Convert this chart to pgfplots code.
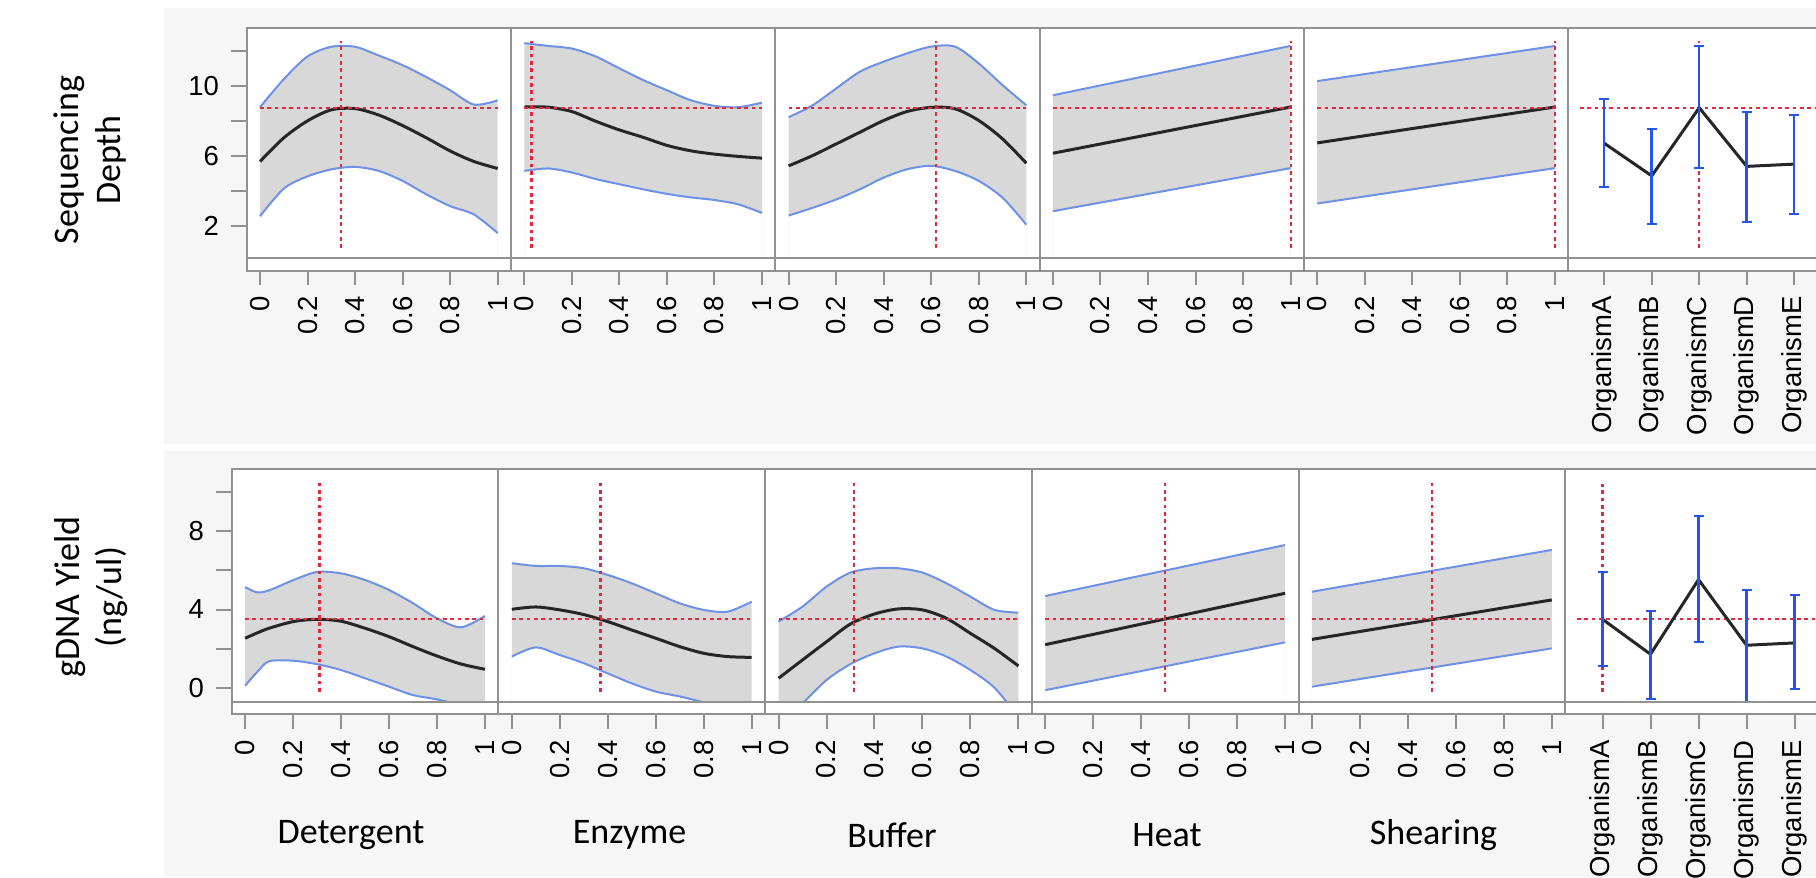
\documentclass[border=0pt]{standalone}
\usepackage{fontspec}
\setmainfont{Carlito}
\newfontfamily\arial{Liberation Sans}
\usepackage{pgfplots}
\usepackage{pgfplotstable}
\pgfplotsset{compat=1.18}

\definecolor{axgray}{RGB}{145,145,145}
\definecolor{bandfill}{RGB}{216,216,216}
\definecolor{bandblue}{RGB}{110,145,230}
\definecolor{errblue}{RGB}{35,85,235}
\definecolor{refred}{RGB}{228,40,60}
\definecolor{panelbg}{RGB}{246,246,246}

\newcommand{\tickfont}{\arial\fontsize{8.25}{9.9}\selectfont}
\newcommand{\labfont}{\fontsize{10.8}{12.6}\selectfont}

% sequencing depth (top row)
\pgfplotstableread{
x   m     u     l
0   5.70  8.80  2.57
0.1 7.05  10.40 4.15
0.2 8.02  11.70 4.85
0.3 8.65  12.25 5.25
0.4 8.72  12.25 5.39
0.5 8.35  11.75 5.16
0.6 7.75  11.20 4.59
0.7 7.05  10.52 3.82
0.8 6.30  9.77  3.15
0.9 5.70  8.95  2.67
1.0 5.30  9.19  1.61
}\tDetA
\pgfplotstableread{
x   m     u     l
0   8.81  12.46 5.16
0.1 8.80  12.30 5.30
0.2 8.55  12.15 5.07
0.3 8.00  11.70 4.70
0.4 7.50  11.02 4.40
0.5 7.08  10.35 4.11
0.6 6.62  9.77  3.85
0.7 6.31  9.20  3.65
0.8 6.12  8.88  3.50
0.9 5.99  8.80  3.25
1.0 5.89  9.06  2.76
}\tEnzA
\pgfplotstableread{
x   m     u     l
0   5.45  8.23  2.61
0.1 6.03  8.90  3.05
0.2 6.70  9.87  3.53
0.3 7.37  10.83 4.11
0.4 8.04  11.40 4.78
0.5 8.56  11.88 5.26
0.6 8.79  12.26 5.45
0.7 8.71  12.26 5.16
0.8 8.04  11.30 4.59
0.9 6.99  10.06 3.63
1.0 5.60  8.91  2.09
}\tBufA
\pgfplotstableread{
x m    u     l
0 6.17 9.48  2.86
1 8.81 12.30 5.32
}\tHeatA
\pgfplotstableread{
x m    u     l
0 6.76 10.29 3.30
1 8.81 12.30 5.32
}\tShearA

% gDNA yield (bottom row)
\pgfplotstableread{
x    m     u     l
0    2.53  5.15  0.10
0.05 2.80  4.88  0.80
0.1  3.04  4.98  1.35
0.2  3.38  5.50  1.38
0.3  3.50  5.92  1.20
0.4  3.40  5.85  0.90
0.5  3.04  5.51  0.48
0.6  2.61  5.00  0.05
0.7  2.10  4.32  -0.38
0.8  1.62  3.55  -0.60
0.9  1.21  3.09  -0.90
1.0  0.94  3.67  -1.20
}\tDetB
\pgfplotstableread{
x   m     u     l
0   4.01  6.37  1.59
0.1 4.13  6.23  2.06
0.2 3.98  6.23  1.67
0.3 3.74  6.11  1.25
0.4 3.38  5.77  0.73
0.5 2.95  5.34  0.22
0.6 2.53  4.83  -0.20
0.7 2.10  4.32  -0.45
0.8 1.76  3.98  -0.75
0.9 1.59  3.89  -1.00
1.0 1.55  4.40  -1.20
}\tEnzB
\pgfplotstableread{
x   m     u     l
0   0.48  3.38  -1.90
0.1 1.42  4.15  -0.80
0.2 2.35  5.17  0.39
0.3 3.26  5.89  1.21
0.4 3.77  6.11  1.76
0.5 4.03  6.11  2.10
0.6 3.98  5.89  2.01
0.7 3.55  5.34  1.59
0.8 2.78  4.66  0.90
0.9 2.01  3.98  0.00
1.0 1.11  3.84  -1.50
}\tBufB
\pgfplotstableread{
x m    u    l
0 2.20 4.69 -0.13
1 4.83 7.30 2.32
}\tHeatB
\pgfplotstableread{
x m    u    l
0 2.47 4.91 0.05
1 4.49 7.05 2.01
}\tShearB

\pgfplotsset{
  prof/.style={
    scale only axis, anchor=north west, axis on top,
    axis line style={draw=axgray, line width=0.6pt},
    tick style={draw=axgray, line width=0.6pt},
    tick align=outside, tick pos=left,
    major tick length=4.8pt,
    xtick style={/pgfplots/major tick length=8.1pt},
    ticklabel style={font=\tickfont},
    xticklabel style={rotate=90, anchor=east, inner xsep=6.6pt},
    /pgf/number format/assume math mode=true,
    axis background/.style={fill=white},
  },
  top/.style={prof, width=79.29pt, height=68.94pt, ymin=0.215, ymax=13.34},
  bot/.style={prof, width=80.01pt, height=69.81pt, ymin=-0.72, ymax=11.19},
  cont/.style={xmin=-0.056, xmax=1.056, xtick={0,0.2,0.4,0.6,0.8,1},
    xticklabels={0,0.2,0.4,0.6,0.8,1}},
  cat/.style={xtick={0,1,2,3,4},
    xticklabels={OrganismA,OrganismB,OrganismC,OrganismD,OrganismE}},
  band/.style={draw=bandblue, line width=0.6pt, smooth},
  mean/.style={draw=black!85, line width=0.9pt, smooth},
  ref/.style={draw=refred, line width=0.65pt, dash pattern=on 1.1pt off 1.1pt},
  ebar/.style={error bars/.cd, y dir=both, y explicit, error mark=|,
    error bar style={errblue, line width=0.75pt, solid},
    error mark options={errblue, line width=0.6pt, mark size=1.5pt}},
}

% #1 table, #2 x of the red vertical, #3 y of the red horizontal, #4/#5 ends of the vertical
\newcommand{\profile}[5]{%
  \addplot[fill=bandfill, draw=none, smooth] table[x=x,y=u]{#1}
    -- (axis cs:1,-5) -- (axis cs:0,-5) -- cycle;
  \addplot[fill=white, draw=none, smooth] table[x=x,y=l]{#1}
    -- (axis cs:1,-5) -- (axis cs:0,-5) -- cycle;
  \addplot[band] table[x=x,y=u]{#1};
  \addplot[band] table[x=x,y=l]{#1};
  \addplot[mean] table[x=x,y=m]{#1};
  \addplot[ref] coordinates {(0,#3) (1,#3)};
  \addplot[ref] coordinates {(#2,#4) (#2,#5)};
}

\begin{document}
\begin{tikzpicture}
\fill[panelbg] (49.2pt,-2.4pt) rectangle (544.8pt,-133.2pt);
\fill[panelbg] (49.2pt,-135.3pt) rectangle (544.8pt,-263.1pt);

% ---- top row
\begin{axis}[top, cont, at={(74.01pt,-8.31pt)},
  ytick={2,4,6,8,10,12}, yticklabels={2,,6,,10,}]
\profile{\tDetA}{0.34}{8.77}{0.75}{12.56}
\end{axis}
\begin{axis}[top, cont, at={(153.30pt,-8.31pt)}, ytick=\empty]
\profile{\tEnzA}{0.03}{8.77}{0.75}{12.56}
\end{axis}
\begin{axis}[top, cont, at={(232.59pt,-8.31pt)}, ytick=\empty]
\profile{\tBufA}{0.62}{8.77}{0.75}{12.56}
\end{axis}
\begin{axis}[top, cont, at={(311.88pt,-8.31pt)}, ytick=\empty]
\profile{\tHeatA}{1}{8.77}{0.75}{12.56}
\end{axis}
\begin{axis}[top, cont, at={(391.17pt,-8.31pt)}, ytick=\empty]
\profile{\tShearA}{1}{8.77}{0.75}{12.56}
\end{axis}
\begin{axis}[top, cat, at={(470.46pt,-8.31pt)}, ytick=\empty,
  xmin=-0.758, xmax=4.806]
\addplot[ref] coordinates {(-0.51,8.77) (5,8.77)};
\addplot[ref] coordinates {(2,0.75) (2,12.56)};
\addplot[mean, sharp plot, ebar] coordinates {
  (0,6.74) += (0,2.51) -= (0,2.50)
  (1,4.88) += (0,2.68) -= (0,2.73)
  (2,8.77) += (0,3.50) -= (0,3.47)
  (3,5.42) += (0,3.11) -= (0,3.19)
  (4,5.55) += (0,2.78) -= (0,2.84)
};
\end{axis}
\foreach \l in {74.01,153.30,232.59,311.88,391.17,470.46}
  \draw[axgray, line width=0.6pt, fill=white] (\l pt,-77.25pt) rectangle ({\l pt+79.29pt},-81.15pt);

% ---- bottom row
\begin{axis}[bot, cont, at={(69.51pt,-140.7pt)},
  ytick={0,2,4,6,8,10}, yticklabels={0,,4,,8,}]
\profile{\tDetB}{0.31}{3.50}{-0.2}{10.45}
\end{axis}
\begin{axis}[bot, cont, at={(149.52pt,-140.7pt)}, ytick=\empty]
\profile{\tEnzB}{0.37}{3.50}{-0.2}{10.45}
\end{axis}
\begin{axis}[bot, cont, at={(229.53pt,-140.7pt)}, ytick=\empty]
\profile{\tBufB}{0.315}{3.50}{-0.2}{10.45}
\end{axis}
\begin{axis}[bot, cont, at={(309.54pt,-140.7pt)}, ytick=\empty]
\profile{\tHeatB}{0.5}{3.50}{-0.2}{10.45}
\end{axis}
\begin{axis}[bot, cont, at={(389.55pt,-140.7pt)}, ytick=\empty]
\profile{\tShearB}{0.5}{3.50}{-0.2}{10.45}
\end{axis}
\begin{axis}[bot, cat, at={(469.56pt,-140.7pt)}, ytick=\empty,
  xmin=-0.777, xmax=4.78]
\addplot[ref] coordinates {(-0.53,3.50) (5,3.50)};
\addplot[ref] coordinates {(0,-0.22) (0,10.44)};
\addplot[mean, sharp plot, ebar] coordinates {
  (0,3.50) += (0,2.42) -= (0,2.39)
  (1,1.71) += (0,2.22) -= (0,2.27)
  (2,5.53) += (0,3.24) -= (0,3.19)
  (3,2.17) += (0,2.81) -= (0,3.17)
  (4,2.29) += (0,2.44) -= (0,2.37)
};
\end{axis}
\foreach \l in {69.51,149.52,229.53,309.54,389.55,469.56}
  \draw[axgray, line width=0.6pt, fill=white] (\l pt,-210.51pt) rectangle ({\l pt+80.01pt},-214.29pt);

% ---- labels
\node[font=\labfont, rotate=90, align=center] at (27pt,-48pt) {Sequencing\\Depth};
\node[font=\labfont, rotate=90, align=center] at (27.3pt,-179.1pt) {gDNA Yield\\(ng/ul)};
\node[font=\labfont] at (105.3pt,-250.5pt) {Detergent};
\node[font=\labfont] at (188.85pt,-250.5pt) {Enzyme};
\node[font=\labfont] at (267.6pt,-250.5pt) {Buffer};
\node[font=\labfont] at (350.1pt,-250.5pt) {Heat};
\node[font=\labfont] at (430.05pt,-250.5pt) {Shearing};

\pgfresetboundingbox
\useasboundingbox (0pt,0pt) rectangle (544.8pt,-263.1pt);
\end{tikzpicture}
\end{document}
